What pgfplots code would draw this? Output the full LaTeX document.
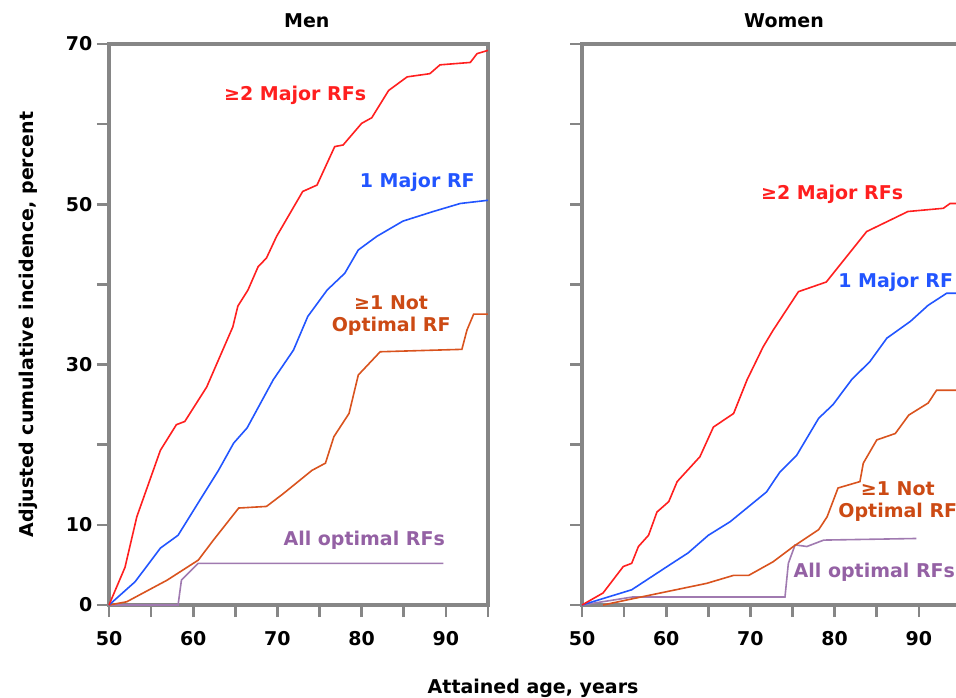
\documentclass[border=0pt]{standalone}
\usepackage{pgfplots}
\pgfplotsset{compat=1.18}
\usepackage{fontspec}
\setmainfont{DejaVu Sans}

\definecolor{axisgray}{HTML}{868686}
\definecolor{cred}{HTML}{FF1F1F}
\definecolor{cblue}{HTML}{2255FF}
\definecolor{corange}{HTML}{D9531E}
\definecolor{tcorange}{HTML}{CC4A14}
\definecolor{cpurple}{HTML}{A07AB0}
\definecolor{tcpurple}{HTML}{9461A4}

\pgfplotsset{
  panel/.style={
    scale only axis, width=284.25pt, height=420.75pt,
    xmin=50, xmax=95, ymin=0, ymax=70,
    xtick={50,55,...,95}, xticklabels={50,,60,,70,,80,,90,},
    ytick={0,10,...,70}, yticklabels={0,10,,30,,50,,70},
    xtick pos=bottom, ytick pos=left,
    tick align=outside, major tick length=9pt,
    axis line style={draw=axisgray, line width=2.4pt},
    every tick/.style={draw=axisgray, line width=2pt},
    /pgf/number format/assume math mode=true,
    ticklabel style={font=\bfseries\fontsize{14.25}{17}\selectfont},
    xticklabel style={yshift=-7pt},
    clip=false,
  },
  crv/.style={line width=1.2pt, mark=none},
}

\begin{document}
\begin{tikzpicture}[font=\bfseries\fontsize{14.25}{17}\selectfont]
% Men
\begin{axis}[panel, at={(0,0)}, anchor=south west]
\addplot[crv, cpurple] coordinates {(50,0) (58.2,0) (58.6,3.1) (60.6,5.2) (89.7,5.2)};
\addplot[crv, corange] coordinates {(50,0) (52.1,0.4) (56.9,3.1) (60.6,5.6) (62.4,8.1) (65.4,12.1) (68.7,12.3) (70.7,13.9) (74.1,16.8) (75.7,17.7) (76.7,21.0) (78.5,23.9) (79.6,28.7) (82.2,31.6) (91.9,31.9) (92.5,34.3) (93.3,36.3) (95,36.3)};
\addplot[crv, cblue] coordinates {(50,0) (53.1,2.9) (56.1,7.1) (58.2,8.7) (60.8,13.1) (63.0,16.8) (64.8,20.2) (66.4,22.1) (69.5,28.1) (71.9,31.8) (73.6,36.0) (75.9,39.3) (78.0,41.4) (79.6,44.3) (81.8,46.0) (84.9,47.9) (88.5,49.1) (91.7,50.1) (95,50.5)};
\addplot[crv, cred] coordinates {(50,0) (51.9,4.7) (53.3,11.0) (56.1,19.3) (58.0,22.5) (59.0,22.9) (61.6,27.2) (63.5,31.8) (64.7,34.7) (65.3,37.3) (66.5,39.3) (67.7,42.2) (68.7,43.3) (69.9,46.0) (73.0,51.6) (74.7,52.4) (76.8,57.2) (77.8,57.4) (80.0,60.1) (81.2,60.8) (83.2,64.2) (85.4,65.9) (88.1,66.3) (89.3,67.4) (92.9,67.7) (93.7,68.8) (95,69.2)};
\node[text=cred] at (axis cs:72.1,63.6) {≥2 Major RFs};
\node[text=cblue] at (axis cs:86.6,52.7) {1 Major RF};
\node[text=tcorange, align=center, inner sep=0pt] at (axis cs:83.5,36.1) {≥1 Not\\Optimal RF};
\node[text=tcpurple] at (axis cs:80.3,8.1) {All optimal RFs};
\node at (rel axis cs:0.522,1.041) {Men};
\node[rotate=90] at (rel axis cs:-0.2137,0.5) {Adjusted cumulative incidence, percent};
\node at (rel axis cs:1.119,-0.148) {Attained age, years};
\end{axis}
% Women
\begin{axis}[panel, yticklabels={}, at={(354.75pt,0)}, anchor=south west]
\addplot[crv, cpurple] coordinates {(50,0) (56,1.0) (74.1,1.0) (74.5,5.2) (75.3,7.5) (76.7,7.3) (78.7,8.1) (89.7,8.3)};
\addplot[crv, corange] coordinates {(52.5,0) (56.1,0.8) (64.8,2.7) (68.0,3.7) (69.8,3.7) (72.7,5.4) (75.1,7.3) (78.1,9.4) (79.1,11.0) (80.4,14.6) (83.0,15.4) (83.4,17.7) (85.0,20.6) (87.2,21.4) (88.8,23.7) (91.1,25.2) (92.1,26.8) (95,26.8)};
\addplot[crv, cblue] coordinates {(50,0) (55.9,1.9) (60.4,5.0) (62.6,6.5) (65.0,8.7) (67.6,10.4) (71.9,14.1) (73.5,16.6) (75.5,18.7) (78.1,23.3) (79.8,25.0) (82.0,28.1) (84.2,30.4) (86.2,33.3) (89.0,35.4) (91.1,37.4) (93.3,38.9) (95,38.9)};
\addplot[crv, cred] coordinates {(50,0) (52.5,1.5) (54.9,4.8) (55.9,5.2) (56.7,7.3) (57.9,8.7) (58.9,11.6) (60.3,12.9) (61.3,15.4) (64.0,18.5) (65.6,22.2) (68.0,23.9) (69.6,28.1) (71.5,32.2) (72.7,34.3) (75.7,39.1) (79.0,40.3) (83.8,46.6) (88.7,49.1) (92.9,49.5) (93.7,50.1) (95,50.1)};
\node[text=cred] at (axis cs:79.7,51.2) {≥2 Major RFs};
\node[text=cblue, anchor=west, inner sep=0pt] at (axis cs:80.4,40.3) {1 Major RF};
\node[text=tcorange, align=center, inner sep=0pt] at (axis cs:87.5,12.9) {≥1 Not\\Optimal RF};
\node[text=tcpurple, anchor=west, inner sep=0pt] at (axis cs:75.1,4.1) {All optimal RFs};
\node at (rel axis cs:0.533,1.041) {Women};
\end{axis}
\pgfresetboundingbox
\path (-81.75pt,-69pt) rectangle (635.25pt,453.75pt);
\end{tikzpicture}
\end{document}
